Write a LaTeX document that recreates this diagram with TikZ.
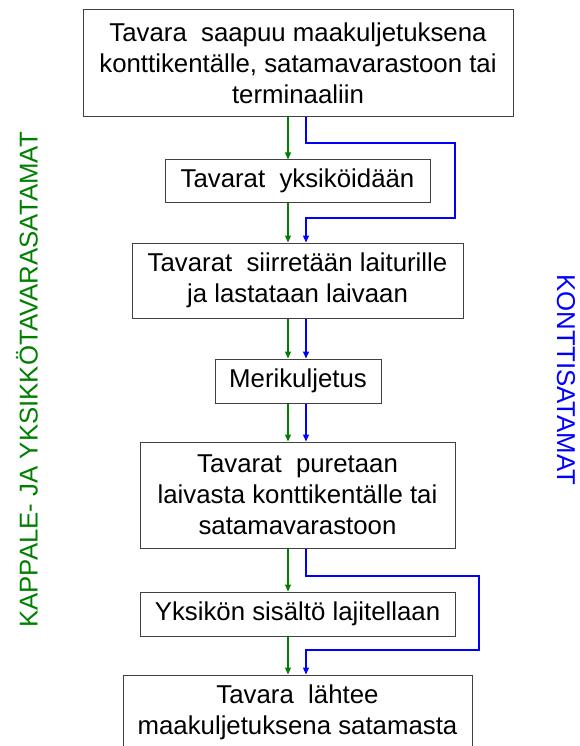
\documentclass[tikz,border=0pt]{standalone}
\usepackage{fontspec}
\setmainfont{Liberation Sans}
\usetikzlibrary{arrows.meta}
\definecolor{vihrea}{RGB}{0,128,0}
\definecolor{sininen}{RGB}{0,0,255}
\definecolor{reuna}{RGB}{64,64,64}

\begin{document}
\begin{tikzpicture}[x=1pt,y=-1pt,
    vaihe/.style={draw=reuna,line width=1pt,align=center,inner sep=0pt,font=\fontsize{25.8}{31}\selectfont},
    vnuoli/.style={vihrea,line width=1.2pt,-{Triangle[length=7pt,width=6pt]}},
    snuoli/.style={sininen,line width=1.4pt,-{Triangle[length=7pt,width=6pt]}}]
  \useasboundingbox (0,0) rectangle (579,746);
  % vaiheet
  \node[vaihe,minimum width=430pt,minimum height=107pt] (saapuu) at (298,63.5) {Tavara\ \ saapuu maakuljetuksena\\konttikentälle, satamavarastoon tai\\terminaaliin};
  \node[vaihe,minimum width=265pt,minimum height=42pt] (yksikointi) at (297.5,181) {Tavarat\ \ yksiköidään};
  \node[vaihe,minimum width=331pt,minimum height=75pt] (lastaus) at (297.5,280.5) {Tavarat\ \ siirretään laiturille\\ja lastataan laivaan};
  \node[vaihe,minimum width=166pt,minimum height=44pt] (meri) at (298,381) {Merikuljetus};
  \node[vaihe,minimum width=315pt,minimum height=106pt] (purku) at (297.5,495) {Tavarat\ \ puretaan\\laivasta konttikentälle tai\\satamavarastoon};
  \node[vaihe,minimum width=315pt,minimum height=44pt] (lajittelu) at (297.5,614) {Yksikön sisältö lajitellaan};
  \node[vaihe,minimum width=349pt,minimum height=75pt] (lahto) at (297.5,712.5) {Tavara\ \ lähtee\\maakuljetuksena satamasta};
  % reunatekstit
  \node[rotate=90,text=vihrea,font=\fontsize{25.8}{31}\selectfont] (kappale) at (27,380) {KAPPALE- JA YKSIKKÖTAVARASATAMAT};
  \node[rotate=-90,text=sininen,font=\fontsize{25.8}{31}\selectfont] (kontti) at (566,380) {KONTTISATAMAT};
  % nuolet
  \coordinate (gx) at (288,0);
  \coordinate (bx) at (306,0);
  \foreach \a/\b in {saapuu/yksikointi,yksikointi/lastaus,lastaus/meri,meri/purku,purku/lajittelu,lajittelu/lahto}
    \draw[vnuoli] (\a.south -| gx) -- (\b.north -| gx);
  \foreach \a/\b in {lastaus/meri,meri/purku}
    \draw[snuoli] (\a.south -| bx) -- (\b.north -| bx);
  \coordinate (k1) at (455,143);
  \coordinate (k2) at (306,218);
  \coordinate (k3) at (479,576);
  \coordinate (k4) at (306,650);
  \draw[snuoli] (saapuu.south -| bx) |- (k1) |- (k2) -- (lastaus.north -| bx);
  \draw[snuoli] (purku.south -| bx) |- (k3) |- (k4) -- (lahto.north -| bx);
\end{tikzpicture}
\end{document}
